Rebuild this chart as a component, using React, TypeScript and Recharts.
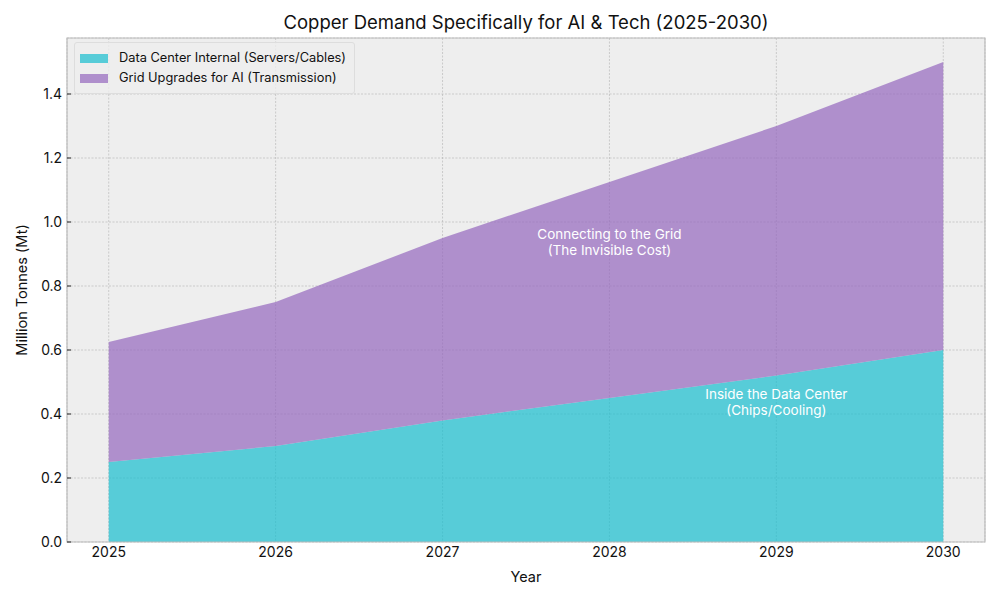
import { AreaChart, Area, XAxis, YAxis, CartesianGrid, ReferenceArea, ReferenceDot } from "recharts";

const years = [2025, 2026, 2027, 2028, 2029, 2030];
const dataCenter = [0.25, 0.3, 0.38, 0.45, 0.52, 0.6];
const gridUpgrades = [0.375, 0.45, 0.57, 0.675, 0.78, 0.9];
const yTicks = [0, 0.2, 0.4, 0.6, 0.8, 1.0, 1.2, 1.4];

const seriesNames = ["Data Center Internal (Servers/Cables)", "Grid Upgrades for AI (Transmission)"];
const seriesColors = ["#17becf", "#9467bd"];

const data = years.map((year, i) => ({
  year,
  dataCenter: dataCenter[i],
  grid: gridUpgrades[i]
}));

const FONT = "Inter, 'Noto Sans', sans-serif";

function twoLineLabel(lines: string[]) {
  return (props: any) => {
    const { viewBox } = props;
    const cx = viewBox.x + (viewBox.width || 0) / 2;
    const cy = viewBox.y + (viewBox.height || 0) / 2;
    return (
      <text x={cx} y={cy} textAnchor="middle" fill="#ffffff" fontSize={13.5} fontFamily={FONT}>
        <tspan x={cx} dy="-0.15em">{lines[0]}</tspan>
        <tspan x={cx} dy="1.15em">{lines[1]}</tspan>
      </text>
    );
  };
}

export default function App() {
  return (
    <div style={{ position: "absolute", left: 0, top: 0, width: 1000, height: 600, background: "#ffffff", fontFamily: FONT }}>
      <div style={{ position: "absolute", top: 11, left: 67, width: 918, textAlign: "center", fontSize: 18.5, color: "#111" }}>
        Copper Demand Specifically for AI &amp; Tech (2025-2030)
      </div>

      <AreaChart width={1000} height={600} data={data} margin={{ top: 38, right: 15, bottom: 0, left: 0 }}>
        <CartesianGrid fill="#eeeeee" stroke="#b2b2b2" strokeDasharray="2 1.5" strokeWidth={0.6} />
        <XAxis
          dataKey="year"
          type="number"
          domain={[2024.75, 2030.25]}
          ticks={years}
          allowDataOverflow
          height={58}
          axisLine={false}
          tickLine={false}
          tickSize={2}
          tickMargin={3}
          tick={{ fill: "#111", fontSize: 14, fontFamily: FONT }}
          label={{ value: "Year", position: "insideBottom", offset: 18, fill: "#111", fontSize: 14.5, fontFamily: FONT }}
        />
        <YAxis
          type="number"
          domain={[0, 1.575]}
          ticks={yTicks}
          allowDataOverflow
          width={67}
          axisLine={false}
          tickSize={-4}
          tickMargin={9}
          tickLine={{ stroke: "#222" }}
          tickFormatter={(v: number) => v.toFixed(1)}
          tick={{ fill: "#111", fontSize: 14, fontFamily: FONT }}
          label={{ value: "Million Tonnes (Mt)", angle: -90, position: "insideLeft", offset: 22, fill: "#111", fontSize: 14.5, fontFamily: FONT, style: { textAnchor: "middle" } }}
        />
        <Area
          type="linear"
          dataKey="dataCenter"
          stackId="a"
          name={seriesNames[0]}
          fill={seriesColors[0]}
          fillOpacity={0.7}
          stroke="none"
          isAnimationActive={false}
        />
        <Area
          type="linear"
          dataKey="grid"
          stackId="a"
          name={seriesNames[1]}
          fill={seriesColors[1]}
          fillOpacity={0.7}
          stroke="none"
          isAnimationActive={false}
        />
        <ReferenceArea x1={2024.75} x2={2030.25} y1={0} y2={1.575} fill="none" stroke="#bcbcbc" strokeWidth={1.2} ifOverflow="visible" />
        <ReferenceDot x={2028} y={0.94} r={0} fill="none" stroke="none" label={twoLineLabel(["Connecting to the Grid", "(The Invisible Cost)"])} />
        <ReferenceDot x={2029} y={0.44} r={0} fill="none" stroke="none" label={twoLineLabel(["Inside the Data Center", "(Chips/Cooling)"])} />
      </AreaChart>

      <div
        style={{
          position: "absolute",
          left: 74,
          top: 42,
          padding: "5px 8px 5px 5px",
          background: "rgba(238,238,238,0.8)",
          border: "1px solid #dddddd",
          borderRadius: 3,
          fontSize: 12.8,
          color: "#111",
          lineHeight: "20px"
        }}
      >
        {seriesNames.map((name, i) => (
          <div key={name} style={{ display: "flex", alignItems: "center" }}>
            <span style={{ width: 28, height: 9, background: seriesColors[i], opacity: 0.7, marginRight: 11, display: "inline-block" }} />
            <span>{name}</span>
          </div>
        ))}
      </div>
    </div>
  );
}
